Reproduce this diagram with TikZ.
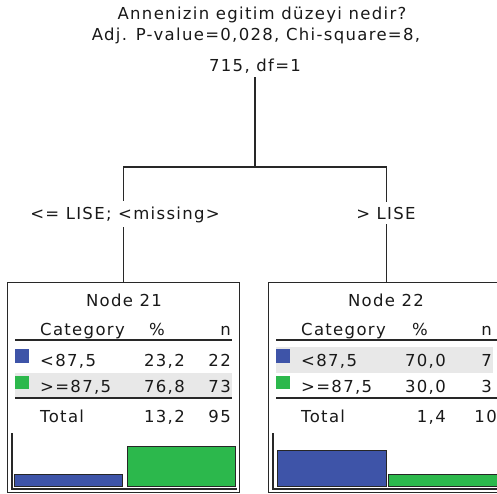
\documentclass[tikz,border=0pt]{standalone}
\usepackage{fontspec}
\setmainfont{DejaVu Sans}[LetterSpace=8]
\definecolor{catblue}{RGB}{62,84,168}
\definecolor{catgreen}{RGB}{44,184,76}
\definecolor{rowshade}{RGB}{232,232,232}
\definecolor{edgegray}{RGB}{40,40,40}
\tikzset{
  txt/.style={inner sep=0pt, text=black!90, font=\fontsize{16.5}{20}\selectfont},
  link/.style={draw=edgegray, line width=1.4pt},
  frame/.style={draw=edgegray, line width=1.3pt},
  rulel/.style={draw=edgegray, line width=1.2pt},
  bar/.style={draw=black!85, line width=1pt},
}
\begin{document}
\begin{tikzpicture}[x=1pt,y=-1pt]
\useasboundingbox (0,0) rectangle (497,494);

% split question
\node[txt, anchor=base] (root1) at (262,20) {Annenizin egitim düzeyi nedir?};
\node[txt, anchor=base] (root2) at (256,41) {Adj. P-value=0,028, Chi-square=8,};
\node[txt, anchor=base] (root3) at (255,72) {715, df=1};

% terminal node frames
\node[frame, anchor=north west, minimum width=232pt, minimum height=210pt, inner sep=0pt] (n21) at (7,282) {};
\node[frame, anchor=north west, minimum width=236pt, minimum height=210pt, inner sep=0pt] (n22) at (268,282) {};

% connectors
\coordinate (split) at (255,167);
\draw[link, shorten <=3pt] (split |- root3.south) -- (split);
\draw[link] (split) -| (n21.north);
\draw[link] (split) -| (n22.north);
\node[txt, fill=white, inner xsep=1pt, inner ysep=5pt, anchor=base] (lblleft) at (125,219) {<= LISE;\ <missing>};
\node[txt, fill=white, inner xsep=1pt, inner ysep=5pt, anchor=base] (lblright) at (386,219) {> LISE};

% Node 21 contents
\node[txt, anchor=base] (n21title) at (124,306) {Node 21};
\node[txt, anchor=base west] (n21cat) at (40,335) {Category};
\node[txt, anchor=base] (n21pct) at (157,335) {\%};
\node[txt, anchor=base east] (n21n) at (231,335) {n};
\draw[rulel] (15,340) -- (232,340);
\fill[rowshade] (15,373) rectangle (232,397);
\fill[catblue] (15,349) rectangle (29,363);
\fill[catgreen] (15,376) rectangle (29,389);
\node[txt, anchor=base west] (n21ra) at (40,366) {<87,5};
\node[txt, anchor=base east] (n21pa) at (185,366) {23,2};
\node[txt, anchor=base east] (n21na) at (231,366) {22};
\node[txt, anchor=base west] (n21rb) at (40,392) {>=87,5};
\node[txt, anchor=base east] (n21pb) at (185,392) {76,8};
\node[txt, anchor=base east] (n21nb) at (231,392) {73};
\draw[rulel] (15,398) -- (232,398);
\node[txt, anchor=base west] (n21tot) at (40,422) {Total};
\node[txt, anchor=base east] (n21pt) at (185,422) {13,2};
\node[txt, anchor=base east] (n21nt) at (231,422) {95};
\draw[rulel] (12,433) -- (12,490);
\draw[rulel] (12,489) -- (237,489);
\filldraw[bar, fill=catblue] (14,474) rectangle (122,486);
\filldraw[bar, fill=catgreen] (127,446) rectangle (235,486);

% Node 22 contents
\node[txt, anchor=base] (n22title) at (386,306) {Node 22};
\node[txt, anchor=base west] (n22cat) at (301,335) {Category};
\node[txt, anchor=base] (n22pct) at (420,335) {\%};
\node[txt, anchor=base east] (n22n) at (492,335) {n};
\draw[rulel] (276,340) -- (497,340);
\fill[rowshade] (276,347) rectangle (493,373);
\fill[catblue] (276,349) rectangle (290,363);
\fill[catgreen] (276,376) rectangle (290,389);
\node[txt, anchor=base west] (n22ra) at (301,366) {<87,5};
\node[txt, anchor=base east] (n22pa) at (446,366) {70,0};
\node[txt, anchor=base east] (n22na) at (492,366) {7};
\node[txt, anchor=base west] (n22rb) at (301,392) {>=87,5};
\node[txt, anchor=base east] (n22pb) at (446,392) {30,0};
\node[txt, anchor=base east] (n22nb) at (492,392) {3};
\draw[rulel] (276,398) -- (497,398);
\node[txt, anchor=base west] (n22tot) at (301,422) {Total};
\node[txt, anchor=base east] (n22pt) at (446,422) {1,4};
\node[txt, anchor=base east] (n22nt) at (497,422) {10};
\draw[rulel] (273,433) -- (273,490);
\draw[rulel] (273,489) -- (500,489);
\filldraw[bar, fill=catblue] (277,450) rectangle (386,486);
\filldraw[bar, fill=catgreen] (388,474) rectangle (500,486);
\end{tikzpicture}
\end{document}
